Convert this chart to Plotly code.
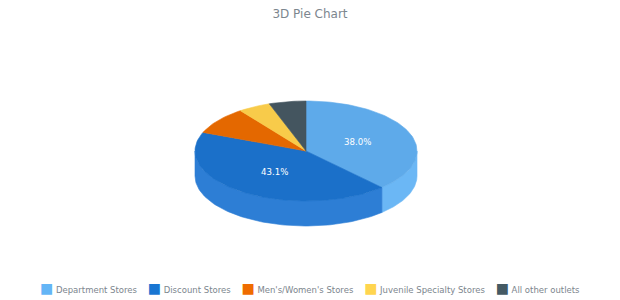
import numpy as np
import plotly.graph_objects as go

# ---- data ----
categories = ["Department Stores", "Discount Stores", "Men's/Women's Stores",
              "Juvenile Specialty Stores", "All other outlets"]
values = [6371664, 7216301, 1486621, 786622, 900000]
top_colors = ["#5EAAEA", "#1B70C9", "#E46800", "#F8CB4A", "#44555F"]
side_colors = ["#6BB7F5", "#2D7ED5", "#D75F00", "#F2C444", "#3B4B54"]
legend_colors = ["#64B5F6", "#1976D2", "#EF6C00", "#FFD54F", "#455A64"]

# ---- layout constants (pixels) ----
W, H = 620, 300
CX, CY = 306.0, 151.0
RX, RY = 111.0, 50.0
DEPTH = 25.0
FONT = "DejaVu Sans"
GRAY = "#7c868e"

vals = np.array(values, dtype=float)
frac = vals / vals.sum()
ends = np.cumsum(frac) * 2 * np.pi
starts = ends - frac * 2 * np.pi


def pt(theta, dy=0.0, r=1.0):
    return CX + r * RX * np.sin(theta), CY - r * RY * np.cos(theta) + dy


fig = go.Figure()

# side walls (front half only)
for i in range(len(vals)):
    a = max(starts[i], np.pi / 2)
    b = min(ends[i], 3 * np.pi / 2)
    if b <= a:
        continue
    t = np.linspace(a, b, 80)
    xt, yt = pt(t)
    xb, yb = pt(t[::-1], DEPTH)
    xs = np.concatenate([xt, xb, xt[:1]])
    ys = np.concatenate([yt, yb, yt[:1]])
    fig.add_trace(go.Scatter(x=xs, y=ys, mode="lines", fill="toself",
                             fillcolor=side_colors[i], line=dict(width=0.6, color=side_colors[i]),
                             hoverinfo="skip", showlegend=False))

# top faces
for i in range(len(vals)):
    t = np.linspace(starts[i], ends[i], max(8, int(200 * frac[i])))
    xa, ya = pt(t)
    xs = np.concatenate([[CX], xa, [CX]])
    ys = np.concatenate([[CY], ya, [CY]])
    fig.add_trace(go.Scatter(x=xs, y=ys, mode="lines", fill="toself",
                             fillcolor=top_colors[i], line=dict(width=0.6, color=top_colors[i]),
                             hoverinfo="text", text=f"{categories[i]}: {values[i]:,}",
                             showlegend=False))

# percentage labels
for i in range(len(vals)):
    if frac[i] < 0.15:
        continue
    mid = (starts[i] + ends[i]) / 2
    lx, ly = pt(mid, r=0.5)
    fig.add_annotation(x=lx, y=ly, text=f"{frac[i]*100:.1f}%", showarrow=False,
                       font=dict(family=FONT, size=8.6, color="white"))

# legend as a single centred line of text
items = []
for c, col in zip(categories, legend_colors):
    items.append(f'<span style="color:{col};font-size:14px">■</span>&nbsp;{c}')
legend_text = "&nbsp;&nbsp;&nbsp;&nbsp;".join(items)
fig.add_annotation(xref="paper", yref="paper", x=0.5, y=(H - 288) / H,
                   xanchor="center", yanchor="middle", text=legend_text, showarrow=False,
                   font=dict(family=FONT, size=8.5, color=GRAY))

fig.update_layout(
    width=W, height=H, margin=dict(l=0, r=0, t=0, b=0),
    paper_bgcolor="white", plot_bgcolor="white",
    title=dict(text="3D Pie Chart", x=0.5, xanchor="center", y=1 - 14 / H, yanchor="middle",
               font=dict(family=FONT, size=12, color=GRAY)),
    xaxis=dict(range=[0, W], visible=False, fixedrange=True),
    yaxis=dict(range=[H, 0], visible=False, fixedrange=True),
    showlegend=False,
)

fig.write_html("out.html")
